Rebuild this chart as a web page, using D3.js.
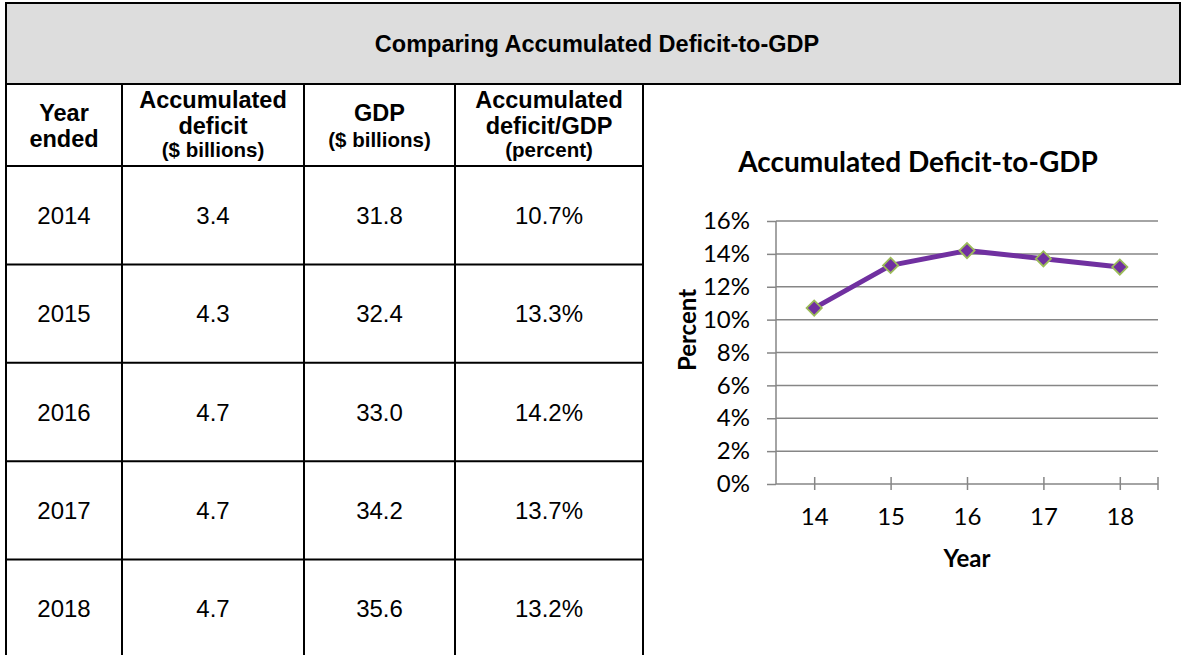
<!DOCTYPE html>
<html>
<head>
<meta charset="utf-8">
<script src="https://cdn.jsdelivr.net/npm/d3@7/dist/d3.min.js"></script>
<style>
  body { margin: 0; background: #fff; }
  svg { display: block; }
  .tbl text { font-family: "Liberation Sans", Arial, sans-serif; fill: #000; }
  .chart text { font-family: Lato, "Open Sans", sans-serif; fill: #000; }
</style>
</head>
<body>
<svg width="1183" height="655"></svg>
<script>
// table data
var years = ["2014", "2015", "2016", "2017", "2018"];
var deficit = [3.4, 4.3, 4.7, 4.7, 4.7];
var gdp = [31.8, 32.4, 33.0, 34.2, 35.6];
var ratio = [10.7, 13.3, 14.2, 13.7, 13.2];

// chart data
var chartYears = ["14", "15", "16", "17", "18"];
var yTicks = [0, 2, 4, 6, 8, 10, 12, 14, 16];

var tableTitle = "Comparing Accumulated Deficit-to-GDP";
var chartTitle = "Accumulated Deficit-to-GDP";
var headers = [
  {main: ["Year", "ended"], sub: []},
  {main: ["Accumulated", "deficit"], sub: ["($ billions)"]},
  {main: ["GDP"], sub: ["($ billions)"]},
  {main: ["Accumulated", "deficit/GDP"], sub: ["(percent)"]}
];

var svg = d3.select("svg");

// ---------- table ----------
var tbl = svg.append("g").attr("class", "tbl");
var colEdges = [6, 122, 304, 455, 643];
var row = d3.scaleLinear().domain([0, 5]).range([166, 658]);

// header box
tbl.append("rect")
  .attr("x", 6).attr("y", 3).attr("width", 1174).attr("height", 81)
  .attr("fill", "#dddddd").attr("stroke", "#000").attr("stroke-width", 2);

tbl.append("text")
  .attr("x", 597).attr("y", 52)
  .attr("text-anchor", "middle")
  .style("font-size", "23.5px").style("font-weight", "bold")
  .text(tableTitle);

// column headers
headers.forEach(function(h, i) {
  var cx = (colEdges[i] + colEdges[i + 1]) / 2;
  var lines = h.main.map(function(t) { return {t: t, sub: false}; })
    .concat(h.sub.map(function(t) { return {t: t, sub: true}; }));
  var baselines;
  if (lines.length == 3) baselines = [108, 134, 157];
  else baselines = [121, 147];
  lines.forEach(function(l, j) {
    tbl.append("text")
      .attr("x", cx).attr("y", baselines[j])
      .attr("text-anchor", "middle")
      .style("font-weight", "bold")
      .style("font-size", l.sub ? "20.5px" : "23.5px")
      .text(l.t);
  });
});

// cells
var cells = years.map(function(y, i) {
  return [y, deficit[i].toFixed(1), gdp[i].toFixed(1), ratio[i].toFixed(1) + "%"];
});
cells.forEach(function(r, i) {
  r.forEach(function(v, j) {
    tbl.append("text")
      .attr("x", (colEdges[j] + colEdges[j + 1]) / 2)
      .attr("y", (row(i) + row(i + 1)) / 2 + 8.5)
      .attr("text-anchor", "middle")
      .style("font-size", "24px")
      .text(v);
  });
});

// grid lines of table
colEdges.forEach(function(x) {
  tbl.append("line")
    .attr("x1", x).attr("x2", x).attr("y1", 84).attr("y2", 660)
    .attr("stroke", "#000").attr("stroke-width", 2);
});
d3.range(0, 6).forEach(function(i) {
  tbl.append("line")
    .attr("x1", colEdges[0] - 1).attr("x2", colEdges[4] + 1)
    .attr("y1", row(i)).attr("y2", row(i))
    .attr("stroke", "#000").attr("stroke-width", 2);
});

// ---------- chart ----------
var chart = svg.append("g").attr("class", "chart");
var x = d3.scalePoint().domain(chartYears).range([776, 1158]).padding(0.5);
var y = d3.scaleLinear().domain([0, 16]).range([484, 221]);
var grey = "#868686";

chart.append("text")
  .attr("x", 918).attr("y", 172)
  .attr("text-anchor", "middle")
  .style("font-size", "28px").style("font-weight", "bold")
  .text(chartTitle);

// gridlines
chart.append("g").selectAll("line")
  .data(yTicks.slice(1))
  .enter().append("line")
  .attr("x1", 776).attr("x2", 1158)
  .attr("y1", function(d) { return y(d); })
  .attr("y2", function(d) { return y(d); })
  .attr("stroke", grey).attr("stroke-width", 1.5);

// y axis
var yAxis = chart.append("g")
  .attr("transform", "translate(776,0)")
  .call(d3.axisLeft(y).tickValues(yTicks).tickSize(9).tickPadding(17)
    .tickFormat(function(d) { return d + "%"; }));
yAxis.select(".domain").attr("stroke", grey).attr("stroke-width", 1.5)
  .attr("d", "M0," + y(16) + "V" + y(0));
yAxis.selectAll(".tick line").attr("stroke", grey).attr("stroke-width", 1.5);
yAxis.selectAll(".tick text")
  .attr("dy", "0.32em")
  .style("font-size", "24px").style("font-family", "Lato, sans-serif");

// x axis
var xAxis = chart.append("g")
  .attr("transform", "translate(0," + y(0) + ")")
  .call(d3.axisBottom(x).tickSizeOuter(0));
xAxis.select(".domain").attr("stroke", grey).attr("stroke-width", 1.5)
  .attr("d", "M776,0H1158");
xAxis.selectAll(".tick line")
  .attr("stroke", grey).attr("stroke-width", 1.5)
  .attr("y1", -7).attr("y2", 6);
xAxis.append("line")
  .attr("x1", x.range()[1]).attr("x2", x.range()[1])
  .attr("y1", -7).attr("y2", 6)
  .attr("stroke", grey).attr("stroke-width", 1.5);
xAxis.selectAll(".tick text")
  .attr("y", 41).attr("dy", 0)
  .style("font-size", "24px").style("font-family", "Lato, sans-serif");

// axis titles
chart.append("text")
  .attr("x", 967).attr("y", 567)
  .attr("text-anchor", "middle")
  .style("font-size", "24px").style("font-weight", "bold")
  .text("Year");
chart.append("text")
  .attr("transform", "translate(696,330) rotate(-90)")
  .attr("text-anchor", "middle")
  .style("font-size", "24px").style("font-weight", "bold")
  .text("Percent");

// series line
var line = d3.line()
  .x(function(d, i) { return x(chartYears[i]); })
  .y(function(d) { return y(d); });
chart.append("path")
  .datum(ratio)
  .attr("d", line)
  .attr("fill", "none")
  .attr("stroke", "#7030a0")
  .attr("stroke-width", 5)
  .attr("stroke-linejoin", "round");

// diamond markers
chart.append("g").selectAll("path")
  .data(ratio)
  .enter().append("path")
  .attr("d", d3.symbol().type(d3.symbolSquare).size(115))
  .attr("transform", function(d, i) {
    return "translate(" + x(chartYears[i]) + "," + y(d) + ") rotate(45)";
  })
  .attr("fill", "#7030a0")
  .attr("stroke", "#9bbb59")
  .attr("stroke-width", 1.8);
</script>
</body>
</html>
